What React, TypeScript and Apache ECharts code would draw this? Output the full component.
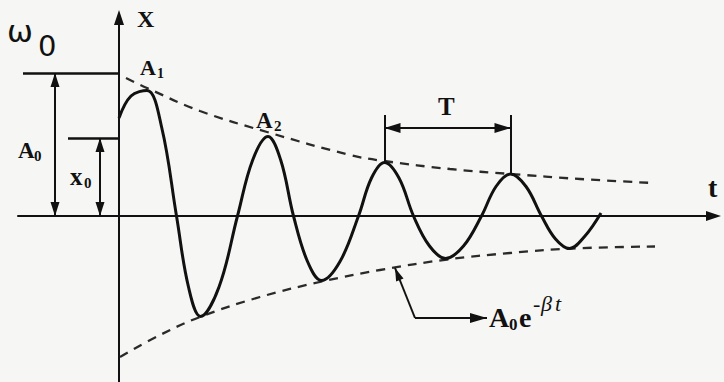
import { useEffect, useRef } from "react";
import * as echarts from "echarts";

// Damped oscillation x(t): start point, then extrema, zero crossings and the points halfway between them
const motionT = [
  0, 1.2, 2.8, 4.27, 5.75, 6.95, 8.15, 10.0, 11.85, 13.37, 14.9, 16.17, 17.45, 18.85, 20.25, 22.1,
  23.95, 25.25, 26.55, 28.0, 29.45, 31.05, 32.65, 34.45, 36.25, 37.7, 39.15, 40.7, 42.25, 43.65,
  45.05, 46.6, 48.2,
];
const motionX = [
  9.8, 12.0, 12.55, 8.85, 0, -7.1, -10.05, -7.1, 0, 5.6, 7.95, 5.6, 0, -4.55, -6.45, -4.55,
  0, 3.8, 5.35, 3.8, 0, -3.0, -4.25, -3.0, 0, 2.95, 4.2, 2.95, 0, -2.3,
  -3.25, -2.0, 0.3,
];

// Envelope +A0·e^(-βt)
const upperT = [0.7, 2.8, 8.1, 14.8, 23.1, 26.5, 33.1, 39.2, 46.1, 53.4];
const upperX = [13.8, 12.8, 10.5, 8.4, 6.1, 5.5, 4.7, 4.2, 3.7, 3.3];

// Envelope -A0·e^(-βt)
const lowerT = [0.1, 4.1, 8.1, 14.1, 20.3, 26.1, 32.8, 39.1, 45.3, 53.6];
const lowerX = [-14.1, -11.9, -10.1, -8.1, -6.55, -5.4, -4.35, -3.7, -3.25, -3.05];

// Initial amplitude and initial displacement
const A0 = 14.3;
const X0 = 7.8;

// Dimension lines (t, x)
const a0Guide = { from: -9.6, arrowAt: -6.4 };
const x0Guide = { from: -5.1, arrowAt: -1.9 };
const periodPeaks = [18, 26]; // indices into motionT/motionX
const periodTop = 10.1;
const periodArrowX = 8.8;
const pointer = { tip: [27.6, -5.2], corner: [29.6, -10.2], end: [36.8, -10.2] };

const INK = "#111111";
const SERIF = "'Liberation Serif', 'Times New Roman', serif";
const SANS = "'DejaVu Sans', 'Liberation Sans', Arial, sans-serif";

const pairs = (ts: number[], xs: number[]) => ts.map((t, i) => [t, xs[i]]);

type TextOpts = { weight?: string; style?: string; family?: string };
function label(text: string, left: number, baseline: number, size: number, o: TextOpts = {}) {
  const family = o.family ?? SERIF;
  const k = family === SANS ? 0.3 : 0.338;
  return {
    type: "text",
    x: left,
    y: baseline - k * size,
    silent: true,
    style: {
      text,
      fill: INK,
      font: `${o.style ?? "normal"} ${o.weight ?? "bold"} ${size}px ${family}`,
      align: "left",
      verticalAlign: "middle",
    },
  };
}

const arrowHead = (size: number[]) => ({
  symbol: "triangle",
  symbolSize: size,
  symbolOffset: [0, "50%"],
});

export default function App() {
  const ref = useRef<HTMLDivElement>(null);

  useEffect(() => {
    document.body.style.margin = "0";
    document.body.style.background = "#f6f6f4";
    const chart = echarts.init(ref.current!, null, { renderer: "svg" });

    const p3 = [motionT[periodPeaks[0]], motionX[periodPeaks[0]]];
    const p4 = [motionT[periodPeaks[1]], motionX[periodPeaks[1]]];
    const thin = { color: INK, width: 2, type: "solid" };

    const markLines = [
      // level of A0 and x0
      [{ coord: [a0Guide.from, A0], lineStyle: { ...thin, width: 2.5 } }, { coord: [0, A0] }],
      [{ coord: [x0Guide.from, X0], lineStyle: { ...thin, width: 2.5 } }, { coord: [0, X0] }],
      // double arrows for A0 and x0
      [
        { coord: [a0Guide.arrowAt, A0], lineStyle: thin, ...arrowHead([9, 14]) },
        { coord: [a0Guide.arrowAt, 0], ...arrowHead([9, 14]) },
      ],
      [
        { coord: [x0Guide.arrowAt, X0], lineStyle: thin, ...arrowHead([9, 14]) },
        { coord: [x0Guide.arrowAt, 0], ...arrowHead([9, 14]) },
      ],
      // period T
      [{ coord: p3, lineStyle: thin }, { coord: [p3[0], periodTop] }],
      [{ coord: p4, lineStyle: thin }, { coord: [p4[0], periodTop] }],
      [
        { coord: [p3[0], periodArrowX], lineStyle: thin, ...arrowHead([10, 16]) },
        { coord: [p4[0], periodArrowX], ...arrowHead([10, 16]) },
      ],
      // pointer to the envelope label
      [{ coord: pointer.corner, lineStyle: thin }, { coord: pointer.tip, ...arrowHead([8, 13]) }],
      [{ coord: pointer.corner, lineStyle: thin }, { coord: pointer.end, ...arrowHead([10, 17]) }],
    ];

    chart.setOption({
      animation: false,
      backgroundColor: "#f6f6f4",
      grid: { left: 18, right: 10.5, top: 17.5, bottom: 0 },
      xAxis: {
        type: "value",
        min: -10.1,
        max: 59.45,
        axisLine: {
          onZero: true,
          symbol: ["none", "triangle"],
          symbolSize: [10, 15],
          lineStyle: { color: INK, width: 2 },
        },
        axisTick: { show: false },
        axisLabel: { show: false },
        splitLine: { show: false },
      },
      yAxis: {
        type: "value",
        min: -16.6,
        max: 19.85,
        axisLine: {
          onZero: true,
          symbol: ["none", "triangle"],
          symbolSize: [10, 15],
          lineStyle: { color: INK, width: 2 },
        },
        axisTick: { show: false },
        axisLabel: { show: false },
        splitLine: { show: false },
      },
      series: [
        {
          name: "upper envelope",
          type: "line",
          data: pairs(upperT, upperX),
          smooth: 0.4,
          showSymbol: false,
          silent: true,
          lineStyle: { color: "#2a2a2a", width: 2.3, type: [9, 7] },
          z: 2,
        },
        {
          name: "lower envelope",
          type: "line",
          data: pairs(lowerT, lowerX),
          smooth: 0.4,
          showSymbol: false,
          silent: true,
          lineStyle: { color: "#2a2a2a", width: 2.3, type: [9, 7] },
          z: 2,
        },
        {
          name: "x(t)",
          type: "line",
          data: pairs(motionT, motionX),
          smooth: 0.38,
          showSymbol: false,
          silent: true,
          lineStyle: { color: INK, width: 3 },
          z: 3,
          markLine: {
            silent: true,
            animation: false,
            symbol: ["none", "none"],
            label: { show: false },
            emphasis: { disabled: true },
            lineStyle: thin,
            data: markLines,
          },
        },
      ],
      graphic: [
        label("ω", 7, 40, 31, { weight: "normal", family: SANS }),
        label("0", 38, 55, 29, { weight: "normal", family: SANS }),
        label("X", 137, 27, 24),
        label("t", 708, 197, 28),
        label("A", 140, 75, 22),
        label("1", 157, 78, 14),
        label("A", 256, 128, 23),
        label("2", 274, 131, 15),
        label("T", 438, 115, 25),
        label("A", 18, 158, 23),
        label("0", 34, 161, 15),
        label("x", 70, 185, 25),
        label("0", 84, 188, 15),
        label("A", 489, 327, 28),
        label("0", 509, 330, 17),
        label("e", 519, 327, 28),
        label("-", 533, 311, 22, { weight: "normal" }),
        label("β", 541, 311, 22, { weight: "normal", style: "italic" }),
        label("t", 555, 311, 22, { weight: "normal", style: "italic" }),
      ],
    });

    return () => chart.dispose();
  }, []);

  return (
    <div
      ref={ref}
      style={{ position: "absolute", left: 0, top: 0, width: 724, height: 382, background: "#f6f6f4" }}
    />
  );
}
